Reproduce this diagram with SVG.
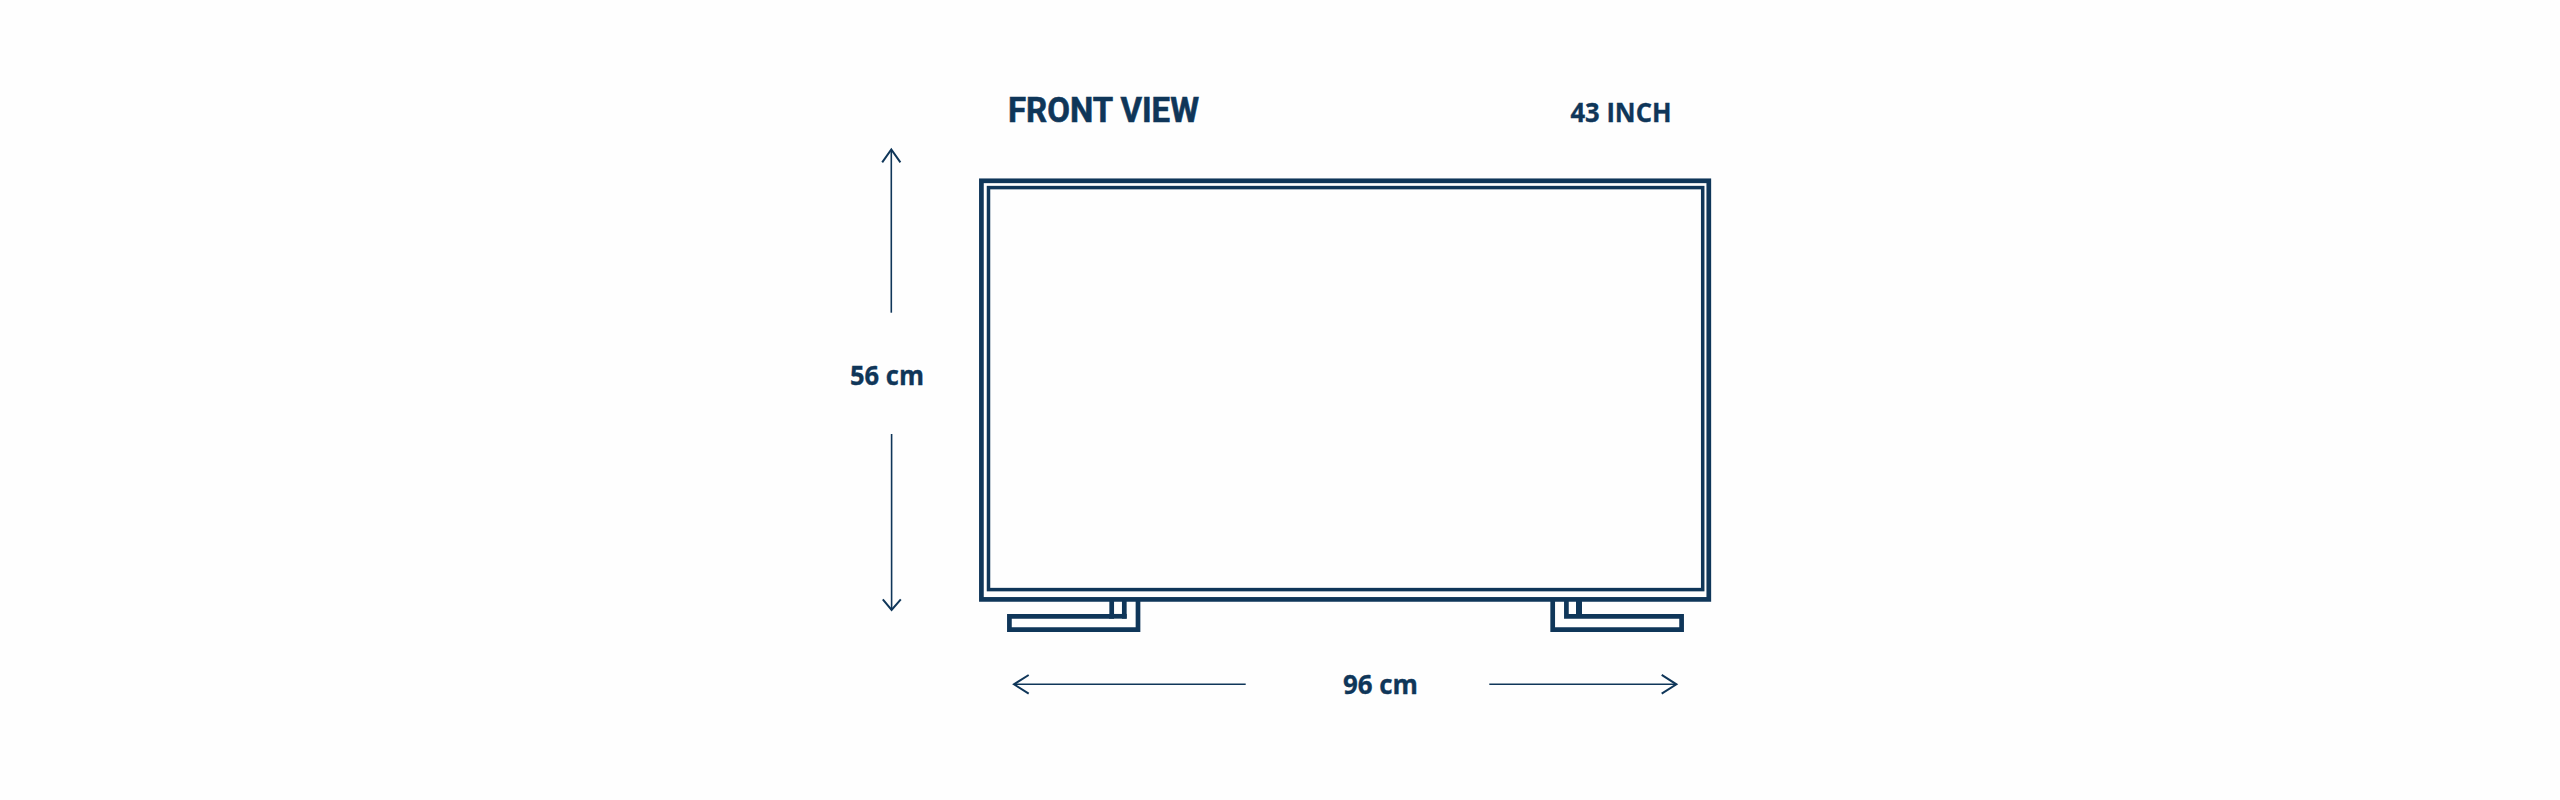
<svg xmlns="http://www.w3.org/2000/svg" width="2560" height="800" viewBox="0 0 2560 800">
  <style>
    .bg { fill: #fefefe; }
    .s { fill: none; stroke: #0f3659; stroke-miterlimit: 10; }
    .thick { stroke-width: 4.7; }
    .inner { stroke-width: 3.5; }
    .dim { stroke-width: 1.6; }
    .wing { stroke-width: 2; }
    text { fill: #0f3659; font-weight: 700; stroke: #0f3659; }
    .lbl { font-family: "Open Sans", "Liberation Sans", sans-serif; font-size: 27.5px; stroke-width: 0.35; }
    .ttl { font-family: Roboto, "Liberation Sans", sans-serif; font-size: 35.5px; stroke-width: 0.6; }
  </style>
  <rect class="bg" width="2560" height="800"/>
  <g id="title"><text class="ttl" x="1008" y="122" textLength="191" lengthAdjust="spacingAndGlyphs">FRONT VIEW</text></g>
  <g id="size"><text class="lbl" x="1570.5" y="122.3" textLength="101" lengthAdjust="spacingAndGlyphs">43 INCH</text></g>
  <g id="tv">
    <rect class="s thick" x="981.4" y="180.8" width="727.4" height="418.6"/>
    <rect class="s inner" x="988.5" y="187.6" width="714.2" height="402"/>
  </g>
  <g id="stand-left">
    <path class="s thick" d="M1138 601V629.7H1009.4V616.3H1111.7V601"/>
    <path class="s thick" d="M1124.3 601V618.7"/>
    <path class="s thick" d="M1109 616.3H1126.7"/>
  </g>
  <g id="stand-right">
    <path class="s thick" d="M1552.7 601V629.7H1681.6V616.3H1566.4V601"/>
    <path class="s" stroke-width="6" d="M1579 601V616"/>
  </g>
  <g id="height-label"><text class="lbl" x="850" y="385" textLength="74" lengthAdjust="spacingAndGlyphs">56 cm</text></g>
  <g id="width-label"><text class="lbl" x="1343" y="693.5" textLength="75" lengthAdjust="spacingAndGlyphs">96 cm</text></g>
  <g id="connectors">
    <path class="s dim" d="M891.3 312.7V150"/>
    <path class="s wing" d="M882.2 162.3L891.3 149.5L900.4 162.3"/>
    <path class="s dim" d="M891.6 434V610"/>
    <path class="s wing" d="M882.8 599.3L891.6 610L900.8 599.3"/>
    <path class="s dim" d="M1245.7 684.3H1015"/>
    <path class="s wing" d="M1028.7 675L1014 684.3L1028.7 693.6"/>
    <path class="s dim" d="M1489.3 684.3H1676"/>
    <path class="s wing" d="M1661.7 674.8L1676.4 684.3L1661.7 693.7"/>
  </g>
</svg>
